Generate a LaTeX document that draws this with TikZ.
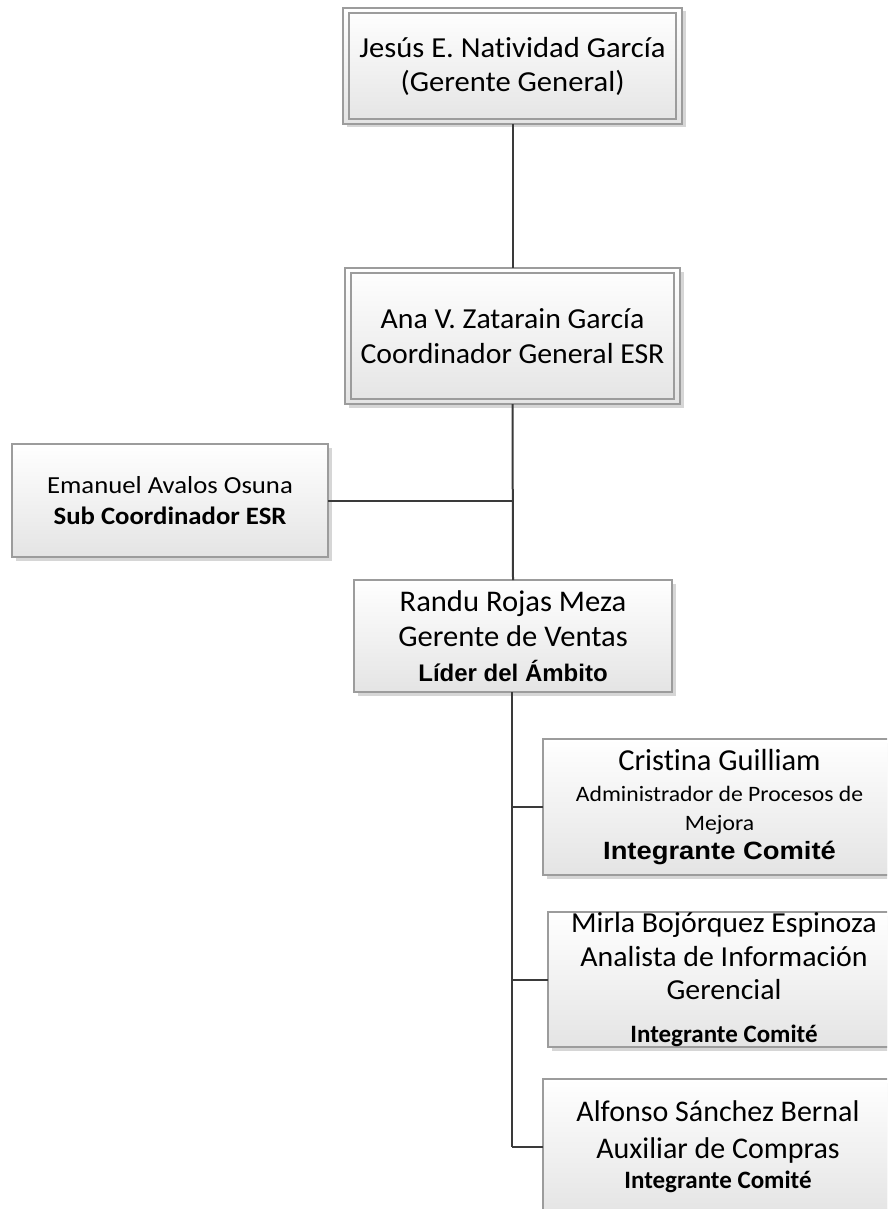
\documentclass[tikz,border=0pt]{standalone}
\usepackage{fontspec}
\setmainfont{Carlito}[Ligatures=NoCommon]
\newfontfamily\arifont{Liberation Sans}
\newcommand\boxfont[3]{\fontsize{#1}{#2}\selectfont\addfontfeatures{FakeStretch=#3}}
\usetikzlibrary{shadows}
\definecolor{boxline}{HTML}{9C9C9C}
\definecolor{boxbot}{HTML}{E4E4E4}
\definecolor{connc}{HTML}{3A3A3A}
\tikzset{
  orgbox/.style={draw=boxline, line width=1.2pt, top color=white, bottom color=boxbot,
    inner sep=0pt, outer sep=0pt, align=center, text=black,
    drop shadow={shadow xshift=3.5pt, shadow yshift=-3.5pt, fill=black!35, opacity=0.45}},
  innerline/.style={draw=boxline, line width=1.1pt},
  conn/.style={draw=connc, line width=2pt}
}
\begin{document}
\begin{tikzpicture}[x=1pt,y=-1pt]
\fill[white] (0,0) rectangle (887,1209);
\useasboundingbox (0,0) rectangle (887,1209);
\clip (0,0) rectangle (887,1209);

% boxes
\node[orgbox, minimum width=339pt, minimum height=116pt,
      font=\boxfont{29}{34}{1.055}] (top) at (512.5,66)
  {Jesús E. Natividad García\\(Gerente General)};
\draw[innerline] ([shift={(6pt,-5pt)}]top.north west) rectangle ([shift={(-6pt,5pt)}]top.south east);

\node[orgbox, minimum width=335pt, minimum height=136pt,
      font=\boxfont{29}{35}{1.027}] (coord) at (512.5,336)
  {Ana V. Zatarain García\\Coordinador General ESR};
\draw[innerline] ([shift={(6pt,-5pt)}]coord.north west) rectangle ([shift={(-6pt,5pt)}]coord.south east);

\node[orgbox, minimum width=316pt, minimum height=113pt,
      font=\boxfont{24.5}{31}{1.09}] (sub) at (170,500.5)
  {Emanuel Avalos Osuna\\{\bfseries\boxfont{25}{31}{1.07}Sub Coordinador ESR}};

\node[orgbox, minimum width=318pt, minimum height=112pt,
      font=\boxfont{30}{35}{1.02}] (randu) at (513,636)
  {Randu Rojas Meza\\Gerente de Ventas\\{\arifont\bfseries\fontsize{24}{28}\selectfont Líder del Ámbito}};

\node[orgbox, minimum width=353pt, minimum height=136pt,
      font=\boxfont{22}{29}{1.075}] (cris) at (719.5,807)
  {{\boxfont{30.5}{30}{1.0}Cristina Guilliam}\\[2pt]Administrador de Procesos de\\Mejora\\{\arifont\bfseries\fontsize{25}{29}\selectfont\addfontfeatures{FakeStretch=1.095}Integrante Comité}};

\node[orgbox, minimum width=352pt, minimum height=135pt,
      font=\boxfont{29}{33.5}{1.03}] (mirla) at (724,979.5)
  {Mirla Bojórquez Espinoza\\[0.5pt]Analista de Información\\[-0.5pt]Gerencial\\[9.5pt]{\bfseries\boxfont{25}{30}{1.0}Integrante Comité}};

\node[orgbox, minimum width=350pt, minimum height=136pt,
      font=\boxfont{30}{37}{1.0}] (alf) at (718,1147)
  {Alfonso Sánchez Bernal\\Auxiliar de Compras\\[-7pt]{\bfseries\boxfont{25}{30}{1.0}Integrante Comité}};

% connectors
\draw[conn] (top.south) -- (coord.north);
\draw[conn] (coord.south) -- (randu.north);
\coordinate (subjoin) at (coord.south |- sub.east);
\draw[conn] (sub.east) -- (subjoin);
\coordinate (spinebot) at ([xshift=-1pt]randu.south |- alf.west);
\draw[conn] ([xshift=-1pt]randu.south) -- (spinebot);
\draw[conn] ([xshift=-1pt]randu.south |- cris.west) -- (cris.west);
\draw[conn] ([xshift=-1pt]randu.south |- mirla.west) -- (mirla.west);
\draw[conn] (spinebot) -- (alf.west);
\end{tikzpicture}
\end{document}
